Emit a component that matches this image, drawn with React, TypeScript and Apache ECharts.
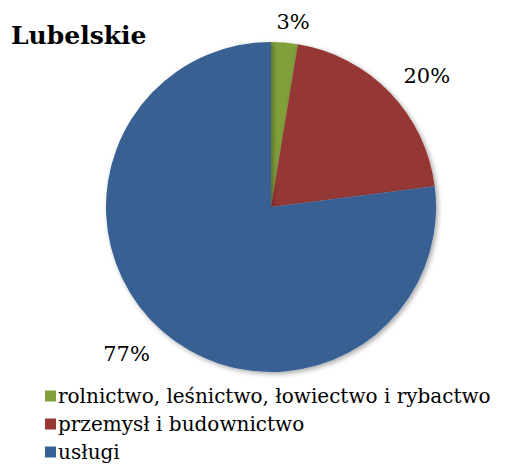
import React, { useEffect, useRef } from "react";
import * as echarts from "echarts";

const title = "Lubelskie";
const categories = [
  "rolnictwo, leśnictwo, łowiectwo i rybactwo",
  "przemysł i budownictwo",
  "usługi",
];
const values = [2.6, 20.4, 77.0];
const colors = ["#7FA03A", "#953735", "#376092"];

export default function App() {
  const ref = useRef<HTMLDivElement>(null);
  useEffect(() => {
    if (!ref.current) return;
    const chart = echarts.init(ref.current, null, { renderer: "svg" });
    const font = "DejaVu Serif";
    const nudges = [
      [-20, -9],
      [-6, -8],
      [7, 14],
    ];
    chart.setOption({
      animation: false,
      backgroundColor: "#ffffff",
      title: {
        text: title,
        left: 11,
        top: 23,
        padding: 0,
        textStyle: { fontFamily: font, fontSize: 25, fontWeight: "bold", color: "#000" },
      },
      legend: {
        orient: "vertical",
        left: 45,
        top: 386,
        height: 100,
        padding: 0,
        itemWidth: 11,
        itemHeight: 11,
        itemGap: 8,
        icon: "rect",
        data: categories,
        textStyle: { fontFamily: font, fontSize: 20, lineHeight: 20, color: "#000", padding: [0, 0, 0, -3] },
      },
      series: [
        {
          type: "pie",
          center: [271, 207],
          radius: 165,
          startAngle: 90,
          clockwise: true,
          data: categories.map((c, i) => ({
            name: c,
            value: values[i],
            itemStyle: { color: colors[i] },
          })),
          itemStyle: {
            shadowBlur: 5,
            shadowColor: "rgba(0,0,0,0.35)",
            shadowOffsetX: 2,
            shadowOffsetY: 2,
          },
          label: {
            show: true,
            position: "outside",
            formatter: (p: any) => Math.round(p.value) + "%",
            fontFamily: font,
            fontSize: 21,
            color: "#000",
          },
          labelLine: { show: false, length: 12, length2: 6 },
          labelLayout: (p: any) => ({ dx: nudges[p.dataIndex][0], dy: nudges[p.dataIndex][1] }),
          emphasis: { disabled: true },
        },
      ],
    });
    return () => chart.dispose();
  }, []);
  return (
    <div
      ref={ref}
      style={{ position: "absolute", left: 0, top: 0, width: 507, height: 465 }}
    />
  );
}
